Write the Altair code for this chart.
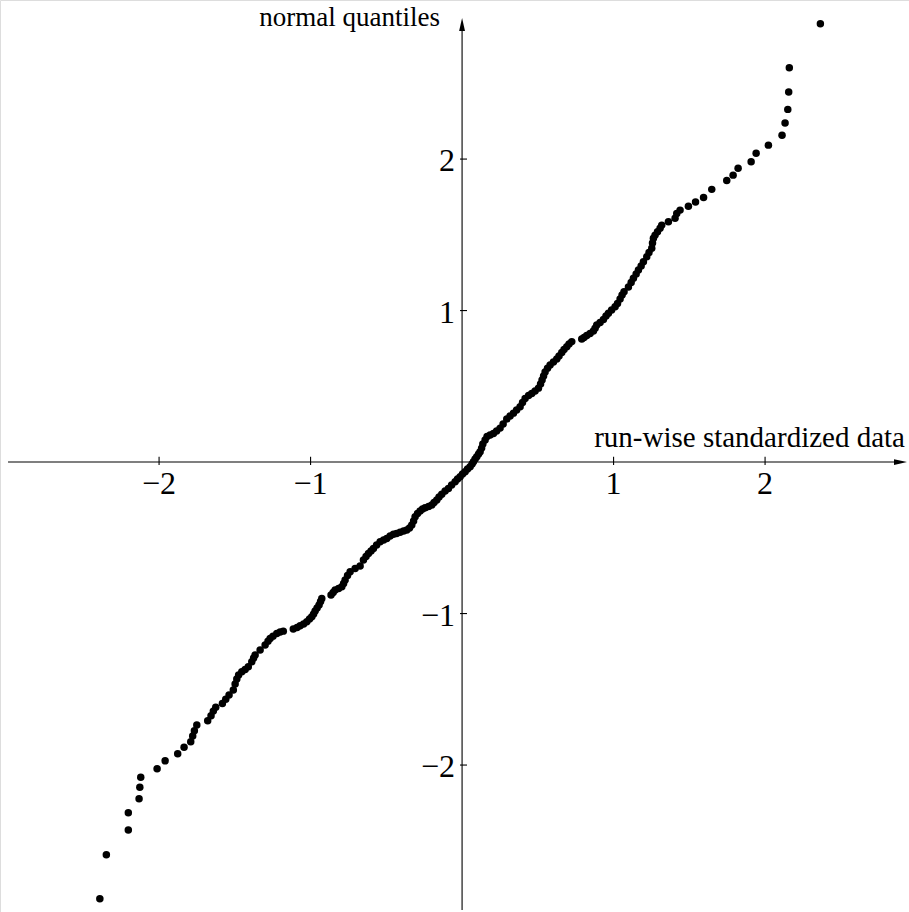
import altair as alt
import pandas as pd

# run-wise standardized data (x) and normal quantiles (y)
data_x = [
    -2.391, -2.348, -2.203, -2.203, -2.132, -2.127, -2.121, -2.013, -1.960, -1.877,
    -1.835, -1.791, -1.778, -1.767, -1.751, -1.679, -1.657, -1.642, -1.626, -1.582,
    -1.560, -1.538, -1.510, -1.498, -1.487, -1.475, -1.454, -1.432, -1.411, -1.388,
    -1.376, -1.366, -1.333, -1.300, -1.281, -1.267, -1.248, -1.223, -1.201, -1.180,
    -1.114, -1.089, -1.069, -1.046, -1.025, -1.007, -0.992, -0.980, -0.970, -0.957,
    -0.944, -0.934, -0.926, -0.865, -0.851, -0.838, -0.815, -0.794, -0.782, -0.772,
    -0.756, -0.739, -0.706, -0.673, -0.651, -0.634, -0.618, -0.601, -0.585, -0.564,
    -0.541, -0.518, -0.497, -0.475, -0.453, -0.432, -0.409, -0.386, -0.365, -0.347,
    -0.332, -0.320, -0.310, -0.294, -0.277, -0.261, -0.244, -0.221, -0.200, -0.185,
    -0.167, -0.152, -0.134, -0.112, -0.090, -0.069, -0.046, -0.030, -0.013, 0.003,
    0.020, 0.036, 0.053, 0.066, 0.075, 0.086, 0.097, 0.109, 0.119, 0.129,
    0.137, 0.152, 0.165, 0.185, 0.207, 0.228, 0.251, 0.271, 0.295, 0.317,
    0.339, 0.360, 0.383, 0.399, 0.416, 0.439, 0.460, 0.482, 0.504, 0.518,
    0.528, 0.538, 0.548, 0.564, 0.581, 0.603, 0.625, 0.640, 0.658, 0.673,
    0.691, 0.706, 0.724, 0.790, 0.805, 0.823, 0.845, 0.867, 0.878, 0.889,
    0.911, 0.933, 0.950, 0.966, 0.987, 1.010, 1.026, 1.043, 1.056, 1.069,
    1.098, 1.116, 1.131, 1.149, 1.164, 1.182, 1.197, 1.219, 1.234, 1.252,
    1.257, 1.263, 1.274, 1.290, 1.307, 1.318, 1.362, 1.406, 1.417, 1.439,
    1.494, 1.541, 1.594, 1.648, 1.747, 1.789, 1.822, 1.908, 1.941, 2.022,
    2.112, 2.132, 2.150, 2.156, 2.160, 2.365,
]
normal_q = [
    -2.883, -2.592, -2.429, -2.315, -2.222, -2.147, -2.081, -2.024, -1.972, -1.925,
    -1.883, -1.846, -1.809, -1.774, -1.736, -1.708, -1.675, -1.644, -1.619, -1.593,
    -1.566, -1.538, -1.505, -1.465, -1.432, -1.406, -1.384, -1.370, -1.351, -1.318,
    -1.294, -1.274, -1.241, -1.208, -1.182, -1.164, -1.149, -1.131, -1.122, -1.116,
    -1.102, -1.092, -1.081, -1.069, -1.054, -1.036, -1.021, -1.003, -0.983, -0.964,
    -0.944, -0.921, -0.900, -0.878, -0.861, -0.845, -0.835, -0.823, -0.802, -0.779,
    -0.749, -0.724, -0.702, -0.686, -0.647, -0.624, -0.603, -0.587, -0.570, -0.548,
    -0.526, -0.515, -0.504, -0.488, -0.477, -0.472, -0.464, -0.455, -0.449, -0.436,
    -0.416, -0.389, -0.361, -0.340, -0.323, -0.310, -0.302, -0.294, -0.284, -0.267,
    -0.251, -0.231, -0.213, -0.191, -0.174, -0.152, -0.130, -0.112, -0.097, -0.079,
    -0.064, -0.046, -0.031, -0.013, 0.002, 0.020, 0.035, 0.053, 0.068, 0.092,
    0.119, 0.145, 0.168, 0.178, 0.189, 0.205, 0.224, 0.251, 0.284, 0.304,
    0.323, 0.343, 0.365, 0.393, 0.420, 0.439, 0.453, 0.469, 0.488, 0.515,
    0.541, 0.568, 0.594, 0.620, 0.640, 0.660, 0.680, 0.700, 0.723, 0.743,
    0.761, 0.779, 0.795, 0.812, 0.822, 0.835, 0.848, 0.865, 0.884, 0.904,
    0.921, 0.941, 0.964, 0.983, 1.003, 1.025, 1.046, 1.076, 1.102, 1.125,
    1.155, 1.185, 1.213, 1.241, 1.267, 1.294, 1.322, 1.355, 1.383, 1.411,
    1.446, 1.477, 1.498, 1.521, 1.543, 1.564, 1.587, 1.609, 1.640, 1.663,
    1.688, 1.716, 1.746, 1.800, 1.858, 1.894, 1.939, 1.982, 2.038, 2.092,
    2.158, 2.238, 2.328, 2.442, 2.603, 2.893,
]

x_tick_values = [-2, -1, 1, 2]
x_tick_labels = ["\u22122", "\u22121", "1", "2"]
y_tick_values = [-2, -1, 1, 2]
y_tick_labels = ["\u22122", "\u22121", "1", "2"]
x_title = "run-wise standardized data"
y_title = "normal quantiles"

X_DOMAIN = [-3.05, 2.95]
Y_DOMAIN = [-2.97, 3.05]
W, H = 909, 912
FONT = "Liberation Serif"

xs = alt.Scale(domain=X_DOMAIN, nice=False, zero=False)
ys = alt.Scale(domain=Y_DOMAIN, nice=False, zero=False)


def X(field="x"):
    return alt.X(field, type="quantitative", scale=xs, axis=None)


def Y(field="y"):
    return alt.Y(field, type="quantitative", scale=ys, axis=None)


# axis lines
axis_lines = alt.Chart(pd.DataFrame({
    "x": [-2.997, 0.0], "x2": [2.90, 0.0],
    "y": [0.0, -2.957], "y2": [0.0, 2.89],
})).mark_rule(color="black", strokeWidth=1.1).encode(
    x=X(), x2="x2", y=Y(), y2="y2"
)

# arrow heads
arrow_up = alt.Chart(pd.DataFrame({"x": [0.0], "y": [2.888]})).mark_point(
    shape="M0,-1L0.45,1L-0.45,1Z", filled=True, color="black", opacity=1, size=169
).encode(x=X(), y=Y())
arrow_right = alt.Chart(pd.DataFrame({"x": [2.894], "y": [0.0]})).mark_point(
    shape="M1,0L-1,0.45L-1,-0.45Z", filled=True, color="black", opacity=1, size=169
).encode(x=X(), y=Y())

# ticks
xticks = alt.Chart(pd.DataFrame({"x": x_tick_values})).mark_rule(
    color="black", strokeWidth=1.1
).encode(x=X(), y=alt.value(462 - 0.035 * 151.5), y2=alt.value(462 + 0.02 * 151.5))
yticks = alt.Chart(pd.DataFrame({"y": y_tick_values})).mark_rule(
    color="black", strokeWidth=1.1
).encode(y=Y(), x=alt.value(462 - 0.013 * 151.5), x2=alt.value(462 + 0.033 * 151.5))

# tick labels
xlab = alt.Chart(pd.DataFrame({"x": x_tick_values, "t": x_tick_labels})).mark_text(
    font=FONT, fontSize=32, align="center", baseline="alphabetic", color="black"
).encode(x=X(), y=alt.value(494), text="t:N")
ylab = alt.Chart(pd.DataFrame({"y": y_tick_values, "t": y_tick_labels})).mark_text(
    font=FONT, fontSize=32, align="right", baseline="middle", color="black", dy=2
).encode(y=Y(), x=alt.value(455), text="t:N")

# axis titles
xt = alt.Chart(pd.DataFrame({"t": [x_title]})).mark_text(
    font=FONT, fontSize=29, align="right", baseline="alphabetic", color="black"
).encode(x=alt.value(905), y=alt.value(447), text="t:N")
yt = alt.Chart(pd.DataFrame({"t": [y_title]})).mark_text(
    font=FONT, fontSize=27, align="right", baseline="alphabetic", color="black"
).encode(x=alt.value(440), y=alt.value(26), text="t:N")

# data points
pts = alt.Chart(pd.DataFrame({"x": data_x, "y": normal_q})).mark_circle(
    color="black", opacity=1, size=56
).encode(x=X(), y=Y())

chart = alt.layer(
    axis_lines, arrow_up, arrow_right, xticks, yticks, xlab, ylab, xt, yt, pts
).properties(
    width=W, height=H, padding=0, autosize=alt.AutoSizeParams(type="none")
).configure_view(stroke=None).configure(background="white")

chart.save("out.html", embed_options={"renderer": "svg", "actions": False})
